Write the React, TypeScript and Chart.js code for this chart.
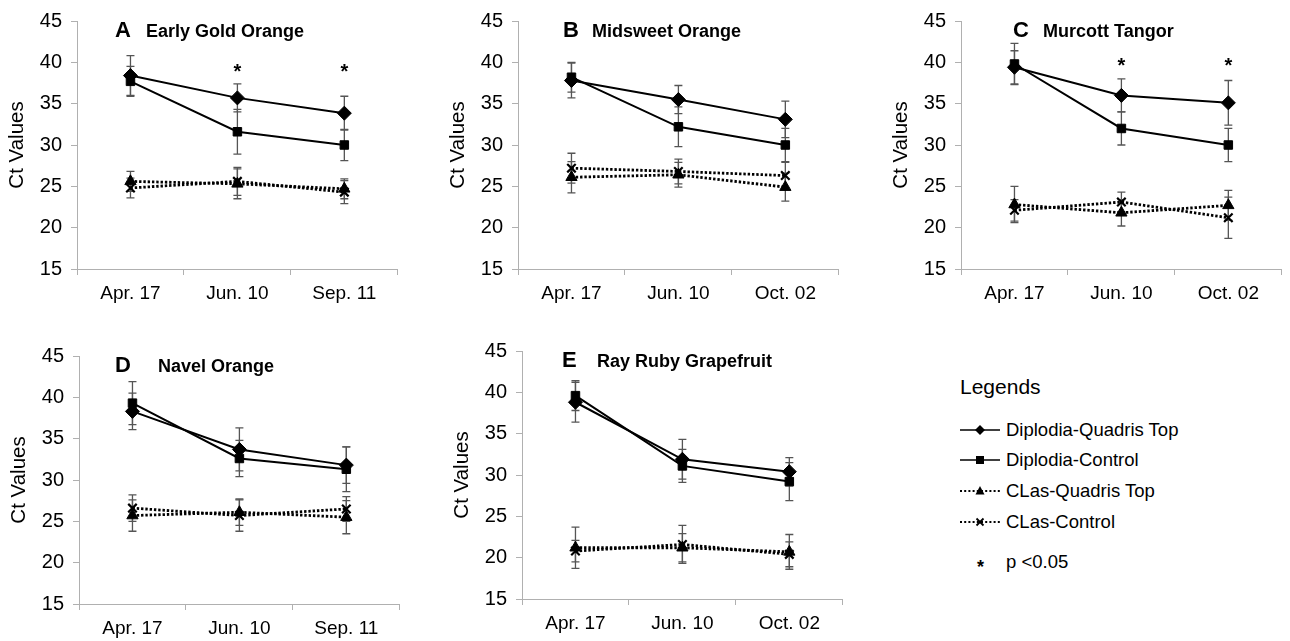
import React, { useEffect, useRef } from "react";
import { Chart, registerables } from "chart.js";

Chart.register(...registerables);

const FONT = '"Liberation Sans", Arial, Helvetica, sans-serif';

// ---------- DATA ----------
const categoriesSep = ["Apr. 17", "Jun. 10", "Sep. 11"];
const categoriesOct = ["Apr. 17", "Jun. 10", "Oct. 02"];
const yMin = 15;
const yMax = 45;
const yStep = 5;
const yAxisTitle = "Ct Values";
const seriesNames = ["Diplodia-Quadris Top", "Diplodia-Control", "CLas-Quadris Top", "CLas-Control"];
const sigLabel = "p <0.05";

// Panel A – Early Gold Orange
const aDipQuadris = [38.4, 35.7, 33.85];
const aDipQuadrisErr = [2.4, 1.7, 2.05];
const aDipControl = [37.7, 31.6, 30.0];
const aDipControlErr = [1.8, 2.7, 1.9];
const aClasQuadris = [25.6, 25.3, 24.7];
const aClasQuadrisErr = [1.2, 1.8, 1.2];
const aClasControl = [24.8, 25.6, 24.3];
const aClasControlErr = [1.2, 1.7, 1.4];
const aSig = [false, true, true];

// Panel B – Midsweet Orange
const bDipQuadris = [37.8, 35.5, 33.1];
const bDipQuadrisErr = [2.1, 1.7, 2.2];
const bDipControl = [38.2, 32.2, 30.0];
const bDipControlErr = [1.8, 2.4, 2.0];
const bClasQuadris = [26.1, 26.4, 24.9];
const bClasQuadrisErr = [1.9, 1.5, 1.7];
const bClasControl = [27.2, 26.8, 26.3];
const bClasControlErr = [1.8, 1.5, 1.6];
const bSig = [false, false, false];

// Panel C – Murcott Tangor
const cDipQuadris = [39.4, 36.0, 35.1];
const cDipQuadrisErr = [2.0, 2.0, 2.7];
const cDipControl = [39.8, 32.0, 30.0];
const cDipControlErr = [2.5, 2.0, 2.0];
const cClasQuadris = [22.8, 21.8, 22.7];
const cClasQuadrisErr = [2.2, 1.6, 1.8];
const cClasControl = [22.1, 23.1, 21.2];
const cClasControlErr = [1.3, 1.2, 2.5];
const cSig = [false, true, true];

// Panel D – Navel Orange
const dDipQuadris = [38.3, 33.7, 31.8];
const dDipQuadrisErr = [2.2, 2.6, 2.2];
const dDipControl = [39.3, 32.6, 31.3];
const dDipControlErr = [2.6, 2.2, 2.7];
const dClasQuadris = [25.7, 26.1, 25.5];
const dClasQuadrisErr = [1.9, 1.6, 2.0];
const dClasControl = [26.6, 25.7, 26.5];
const dClasControlErr = [1.6, 1.9, 1.5];
const dSig = [false, false, false];

// Panel E – Ray Ruby Grapefruit
const eDipQuadris = [38.8, 31.9, 30.4];
const eDipQuadrisErr = [2.4, 2.4, 1.7];
const eDipControl = [39.6, 31.1, 29.2];
const eDipControlErr = [1.8, 2.0, 2.3];
const eClasQuadris = [21.2, 21.2, 20.7];
const eClasQuadrisErr = [2.5, 1.7, 2.1];
const eClasControl = [20.8, 21.6, 20.4];
const eClasControlErr = [1.3, 2.3, 1.5];
const eSig = [false, false, false];

// ---------- STYLE / LAYOUT ----------
const AXIS_COLOR = "#b0b0b0";
const ERR_COLOR = "#555555";
const CANVAS_W = 406;
const CANVAS_H = 310;

type PanelDef = {
  letter: string;
  name: string;
  labels: string[];
  values: number[][];
  errors: number[][];
  sig: boolean[];
  sigLevel: number;
  left: number;
  top: number;
  letterDx: number;
  nameDx: number;
};

const panels: PanelDef[] = [
  {
    letter: "A", name: "Early Gold Orange", labels: categoriesSep,
    values: [aDipQuadris, aDipControl, aClasQuadris, aClasControl],
    errors: [aDipQuadrisErr, aDipControlErr, aClasQuadrisErr, aClasControlErr],
    sig: aSig, sigLevel: 39.5, left: 0, top: 0, letterDx: 38, nameDx: 69,
  },
  {
    letter: "B", name: "Midsweet Orange", labels: categoriesOct,
    values: [bDipQuadris, bDipControl, bClasQuadris, bClasControl],
    errors: [bDipQuadrisErr, bDipControlErr, bClasQuadrisErr, bClasControlErr],
    sig: bSig, sigLevel: 39.5, left: 441, top: 0, letterDx: 45, nameDx: 74,
  },
  {
    letter: "C", name: "Murcott Tangor", labels: categoriesOct,
    values: [cDipQuadris, cDipControl, cClasQuadris, cClasControl],
    errors: [cDipQuadrisErr, cDipControlErr, cClasQuadrisErr, cClasControlErr],
    sig: cSig, sigLevel: 40.3, left: 884, top: 0, letterDx: 52, nameDx: 82,
  },
  {
    letter: "D", name: "Navel Orange", labels: categoriesSep,
    values: [dDipQuadris, dDipControl, dClasQuadris, dClasControl],
    errors: [dDipQuadrisErr, dDipControlErr, dClasQuadrisErr, dClasControlErr],
    sig: dSig, sigLevel: 39.5, left: 2, top: 335, letterDx: 36, nameDx: 79,
  },
  {
    letter: "E", name: "Ray Ruby Grapefruit", labels: categoriesOct,
    values: [eDipQuadris, eDipControl, eClasQuadris, eClasControl],
    errors: [eDipQuadrisErr, eDipControlErr, eClasQuadrisErr, eClasControlErr],
    sig: eSig, sigLevel: 39.5, left: 445, top: 330, letterDx: 40, nameDx: 75,
  },
];

const seriesStyles = [
  { pointStyle: "rectRot", pointRadius: 7, dash: [] as number[], width: 2, pbw: 1 },
  { pointStyle: "rect", pointRadius: 6, dash: [] as number[], width: 2, pbw: 1 },
  { pointStyle: "triangle", pointRadius: 6.5, dash: [2.4, 1.9], width: 2.8, pbw: 1 },
  { pointStyle: "crossRot", pointRadius: 6, dash: [2.4, 1.9], width: 2.8, pbw: 2.2 },
];

const errorBarPlugin = {
  id: "errorBars",
  beforeDatasetsDraw(chart: any) {
    const ctx = chart.ctx;
    const y = chart.scales.y;
    ctx.save();
    ctx.strokeStyle = ERR_COLOR;
    ctx.lineWidth = 1.3;
    chart.data.datasets.forEach((ds: any, i: number) => {
      const meta = chart.getDatasetMeta(i);
      meta.data.forEach((pt: any, j: number) => {
        const v = ds.data[j];
        const e = ds.errors[j];
        const yt = y.getPixelForValue(v + e);
        const yb = y.getPixelForValue(v - e);
        const x = pt.x;
        ctx.beginPath();
        ctx.moveTo(x, yt);
        ctx.lineTo(x, yb);
        ctx.moveTo(x - 4, yt);
        ctx.lineTo(x + 4, yt);
        ctx.moveTo(x - 4, yb);
        ctx.lineTo(x + 4, yb);
        ctx.stroke();
      });
    });
    ctx.restore();
  },
};

const annotationPlugin = {
  id: "panelAnnotations",
  afterDraw(chart: any, _args: any, opts: any) {
    const ctx = chart.ctx;
    const ca = chart.chartArea;
    const p: PanelDef = opts.panel;
    ctx.save();
    ctx.fillStyle = "#000";
    ctx.textBaseline = "alphabetic";
    ctx.textAlign = "left";
    ctx.font = `bold 22px ${FONT}`;
    ctx.fillText(p.letter, ca.left + p.letterDx, ca.top + 16);
    ctx.font = `bold 18px ${FONT}`;
    ctx.fillText(p.name, ca.left + p.nameDx, ca.top + 16);
    const xs = chart.scales.x;
    const ys = chart.scales.y;
    ctx.font = `bold 20px ${FONT}`;
    ctx.textAlign = "center";
    p.sig.forEach((s, j) => {
      if (!s) return;
      const x = xs.getPixelForValue(j);
      const yy = ys.getPixelForValue(p.sigLevel);
      ctx.fillText("*", x, yy + 12);
    });
    ctx.restore();
  },
};

function Panel({ panel }: { panel: PanelDef }) {
  const ref = useRef<HTMLCanvasElement | null>(null);
  useEffect(() => {
    if (!ref.current) return;
    const datasets = panel.values.map((vals, i) => {
      const st = seriesStyles[i];
      return {
        label: seriesNames[i],
        data: vals,
        errors: panel.errors[i],
        borderColor: "#000",
        backgroundColor: "#000",
        borderWidth: st.width,
        borderDash: st.dash,
        borderCapStyle: "butt",
        pointStyle: st.pointStyle,
        pointRadius: st.pointRadius,
        pointBorderWidth: st.pbw,
        pointBackgroundColor: "#000",
        pointBorderColor: "#000",
        tension: 0,
        fill: false,
      } as any;
    });
    const chart = new Chart(ref.current, {
      type: "line",
      data: { labels: panel.labels, datasets },
      plugins: [errorBarPlugin, annotationPlugin],
      options: {
        animation: false,
        responsive: false,
        maintainAspectRatio: false,
        events: [],
        layout: { padding: { top: 17, right: 2, left: 0, bottom: 0 } },
        plugins: {
          legend: { display: false },
          tooltip: { enabled: false },
          title: { display: false },
          panelAnnotations: { panel },
        } as any,
        scales: {
          x: {
            type: "category",
            offset: true,
            grid: {
              display: true,
              drawOnChartArea: false,
              drawTicks: true,
              tickLength: 6,
              color: AXIS_COLOR,
              offset: true,
            },
            border: { display: true, color: AXIS_COLOR, width: 1 },
            ticks: {
              color: "#000",
              font: { size: 19, family: FONT },
              padding: 7,
              maxRotation: 0,
              autoSkip: false,
            },
            afterFit: (s: any) => {
              s.height = 41;
            },
          },
          y: {
            min: yMin,
            max: yMax,
            ticks: {
              stepSize: yStep,
              color: "#000",
              font: { size: 20, family: FONT },
              padding: 9,
            },
            grid: {
              display: true,
              drawOnChartArea: false,
              drawTicks: true,
              tickLength: 6,
              color: AXIS_COLOR,
            },
            border: { display: true, color: AXIS_COLOR, width: 1 },
            title: {
              display: true,
              text: yAxisTitle,
              color: "#000",
              font: { size: 20.5, family: FONT },
              padding: { top: 5, bottom: 0 },
            },
            afterFit: (s: any) => {
              s.width = 77;
            },
          },
        } as any,
      },
    });
    return () => chart.destroy();
  }, [panel]);
  return (
    <canvas
      ref={ref}
      width={CANVAS_W}
      height={CANVAS_H}
      style={{
        position: "absolute",
        left: panel.left,
        top: panel.top,
        width: CANVAS_W,
        height: CANVAS_H,
      }}
    />
  );
}

function LegendSymbol({ index }: { index: number }) {
  const st = seriesStyles[index];
  const dotted = st.dash.length > 0;
  const cx = 20;
  const cy = 7;
  let marker: React.ReactNode = null;
  if (st.pointStyle === "rectRot") {
    marker = <polygon points={`${cx},${cy - 5} ${cx + 5},${cy} ${cx},${cy + 5} ${cx - 5},${cy}`} fill="#000" />;
  } else if (st.pointStyle === "rect") {
    marker = <rect x={cx - 4} y={cy - 4} width={8} height={8} fill="#000" />;
  } else if (st.pointStyle === "triangle") {
    marker = <polygon points={`${cx},${cy - 5} ${cx + 4.5},${cy + 3.5} ${cx - 4.5},${cy + 3.5}`} fill="#000" />;
  } else {
    marker = (
      <g stroke="#000" strokeWidth={1.8}>
        <line x1={cx - 3.5} y1={cy - 3.5} x2={cx + 3.5} y2={cy + 3.5} />
        <line x1={cx - 3.5} y1={cy + 3.5} x2={cx + 3.5} y2={cy - 3.5} />
      </g>
    );
  }
  return (
    <svg width={40} height={14} style={{ display: "block" }}>
      <line
        x1={0}
        y1={cy}
        x2={40}
        y2={cy}
        stroke="#000"
        strokeWidth={dotted ? 2 : 1.5}
        strokeDasharray={dotted ? "2 2.2" : undefined}
      />
      {marker}
    </svg>
  );
}

function Legend() {
  const rowsY = [430, 460, 491, 522];
  return (
    <>
      <div
        style={{
          position: "absolute",
          left: 960,
          top: 387 - 14,
          height: 28,
          lineHeight: "28px",
          fontSize: 21,
          fontFamily: FONT,
          color: "#000",
          whiteSpace: "nowrap",
        }}
      >
        Legends
      </div>
      {seriesNames.map((name, i) => (
        <div key={name}>
          <div style={{ position: "absolute", left: 960, top: rowsY[i] - 7 }}>
            <LegendSymbol index={i} />
          </div>
          <div
            style={{
              position: "absolute",
              left: 1006,
              top: rowsY[i] - 12,
              height: 24,
              lineHeight: "24px",
              fontSize: 18.5,
              fontFamily: FONT,
              color: "#000",
              whiteSpace: "nowrap",
            }}
          >
            {name}
          </div>
        </div>
      ))}
      <div
        style={{
          position: "absolute",
          left: 977,
          top: 567 - 12,
          height: 24,
          lineHeight: "24px",
          fontSize: 18,
          fontWeight: "bold",
          fontFamily: FONT,
          color: "#000",
        }}
      >
        *
      </div>
      <div
        style={{
          position: "absolute",
          left: 1006,
          top: 562 - 12,
          height: 24,
          lineHeight: "24px",
          fontSize: 18.5,
          fontFamily: FONT,
          color: "#000",
          whiteSpace: "nowrap",
        }}
      >
        {sigLabel}
      </div>
    </>
  );
}

export default function App() {
  return (
    <div
      style={{
        position: "absolute",
        left: 0,
        top: 0,
        width: 1290,
        height: 641,
        background: "#fff",
        overflow: "hidden",
      }}
    >
      {panels.map((p) => (
        <Panel key={p.letter} panel={p} />
      ))}
      <Legend />
    </div>
  );
}
